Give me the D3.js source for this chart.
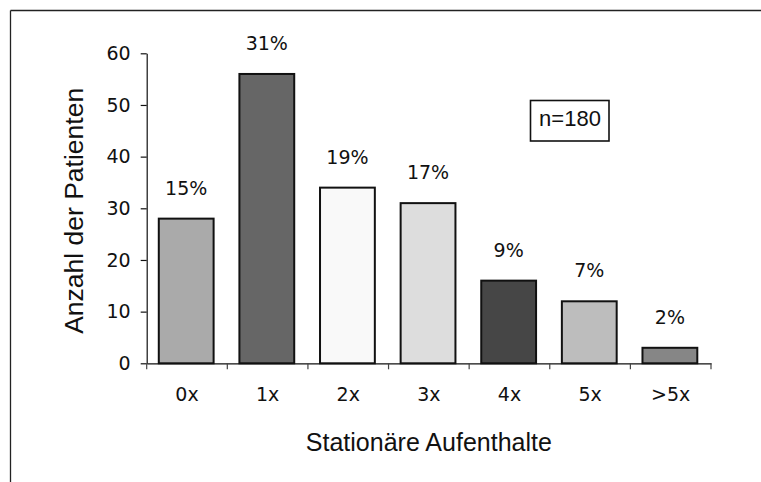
<!DOCTYPE html>
<html><head><meta charset="utf-8">
<script src="https://cdn.jsdelivr.net/npm/d3@7"></script>
<style>
html,body{margin:0;padding:0;background:#fff;}
svg{display:block;}
</style></head>
<body>
<svg id="c" width="761" height="482"></svg>
<script>
const categories = ["0x","1x","2x","3x","4x","5x",">5x"];
const counts = [28,56,34,31,16,12,3];
const percents = ["15%","31%","19%","17%","9%","7%","2%"];
const barColors = ["#aaaaaa","#666666","#f9f9f9","#dddddd","#464646","#bdbdbd","#868686"];
const yTicks = [0,10,20,30,40,50,60];
const yTitle = "Anzahl der Patienten";
const xTitle = "Stationäre Aufenthalte";
const noteText = "n=180";

(function(){
const svg = d3.select("#c");
const pL = 146.7, pR = 711, pT = 53.3, pB = 363.3;
const lblFont = "DejaVu Sans, sans-serif", lblSize = 19;

// frame (top and left edges visible)
svg.append("line").attr("x1",10.5).attr("x2",761).attr("y1",10.5).attr("y2",10.5).attr("stroke","#222").attr("stroke-width",1.3);
svg.append("line").attr("x1",10.5).attr("x2",10.5).attr("y1",10.5).attr("y2",482).attr("stroke","#222").attr("stroke-width",1.3);

const x = d3.scaleBand().domain(categories).range([pL,pR]).padding(0);
const y = d3.scaleLinear().domain([0,60]).range([pB,pT]);
const bw = x.bandwidth();

// bars
svg.append("g").selectAll("rect").data(categories).join("rect")
  .attr("x",(d)=>x(d)+bw*0.15)
  .attr("width",bw*0.68)
  .attr("y",(d,i)=>y(counts[i]))
  .attr("height",(d,i)=>y(0)-y(counts[i]))
  .attr("fill",(d,i)=>barColors[i])
  .attr("stroke","#111").attr("stroke-width",2);

// percent labels
svg.append("g").selectAll("text").data(categories).join("text")
  .attr("x",(d)=>x(d)+bw*0.15+bw*0.34)
  .attr("y",(d,i)=>y(counts[i])-24)
  .attr("text-anchor","middle")
  .attr("font-family",lblFont).attr("font-size",lblSize)
  .attr("fill","#111")
  .text((d,i)=>percents[i]);

// y axis
const gy = svg.append("g").attr("transform",`translate(${pL},0)`)
  .call(d3.axisLeft(y).tickValues(yTicks).tickSize(6).tickSizeOuter(0).tickPadding(10));
gy.selectAll("text").attr("font-family",lblFont).attr("font-size",lblSize).attr("fill","#111");
gy.selectAll("line").attr("stroke","#111").attr("stroke-width",1.2);
gy.select(".domain").attr("stroke","#111").attr("stroke-width",1.2);

// x axis line + labels
const gx = svg.append("g").attr("transform",`translate(0,${pB})`)
  .call(d3.axisBottom(x).tickSize(0).tickSizeOuter(0).tickPadding(23.8));
gx.selectAll("text").attr("font-family",lblFont).attr("font-size",lblSize).attr("fill","#111");
gx.select(".domain").attr("stroke","#111").attr("stroke-width",1.2);
// boundary tick marks between categories
const bounds = categories.map(c=>x(c)).concat([x(categories[categories.length-1])+x.step()]);
svg.append("g").selectAll("line").data(bounds).join("line")
  .attr("x1",d=>d).attr("x2",d=>d)
  .attr("y1",pB).attr("y2",pB+6)
  .attr("stroke","#444").attr("stroke-width",1.2);

// axis titles
svg.append("text")
  .attr("transform",`translate(83,${(86.7+335)/2}) rotate(-90)`)
  .attr("text-anchor","middle")
  .attr("font-family","Liberation Sans, Arial, sans-serif").attr("font-size",26.5)
  .attr("fill","#111").text(yTitle);
svg.append("text")
  .attr("x",(pL+pR)/2).attr("y",450.7)
  .attr("text-anchor","middle")
  .attr("font-family","Liberation Sans, Arial, sans-serif").attr("font-size",25)
  .attr("fill","#111").text(xTitle);

// note box
svg.append("rect").attr("x",530.5).attr("y",100.5).attr("width",78.5).attr("height",40.5)
  .attr("fill","#fff").attr("stroke","#111").attr("stroke-width",1.6);
svg.append("text").attr("x",570).attr("y",125.7).attr("text-anchor","middle")
  .attr("font-family","Liberation Sans, Arial, sans-serif").attr("font-size",22)
  .attr("fill","#111").text(noteText);
})();
</script>
</body></html>
